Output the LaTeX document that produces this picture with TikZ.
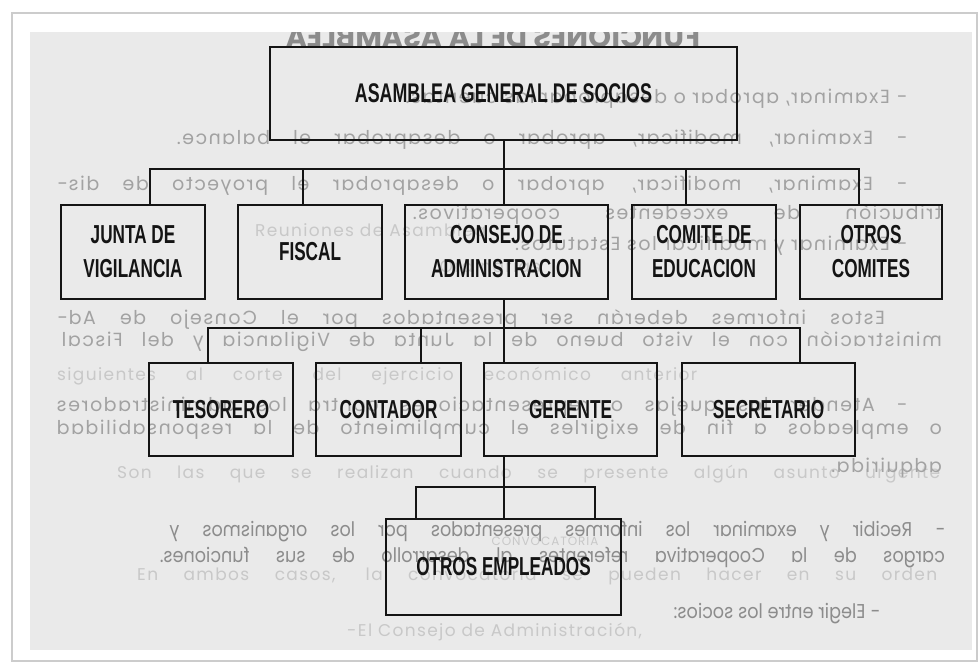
\documentclass[tikz,border=0pt]{standalone}
\usepackage{graphicx}
\usepackage{fontspec}
\setmainfont{Liberation Sans}
\newfontfamily\bodyfont{Poppins}[LetterSpace=8]
\newfontfamily\plainbody{Poppins}

\definecolor{paper}{HTML}{EAEAEA}
\definecolor{ink}{HTML}{141414}
\definecolor{backside}{HTML}{A2A2A2}
\definecolor{backsidedark}{HTML}{8C8C8C}
\definecolor{underlay}{HTML}{C8C8C8}
\definecolor{framegray}{HTML}{CCCCCC}

% condensed heavy label type
\newcommand\cond[1]{\scalebox{0.66}[1]{#1}}
% text showing through from the back of the sheet (mirrored)
\newcommand\mirfull[2]{\reflectbox{\makebox[#1][s]{#2}}}
\newcommand\mirnat[1]{\reflectbox{#1}}
\newcommand\condmir[2]{\reflectbox{\scalebox{0.88}[1]{\makebox[#1][s]{#2}}}}

\tikzset{
  orgbox/.style={draw=ink, line width=2.8pt, inner sep=0pt, align=center,
    font=\fontsize{26}{34}\selectfont\bfseries, text=ink},
  link/.style={draw=ink, line width=2.5pt, line join=miter},
  backtext/.style={anchor=base east, inner sep=0pt, text=backside,
    font=\bodyfont\fontsize{19}{23}\selectfont},
  backtextdark/.style={backtext, text=backsidedark,
    font=\plainbody\fontsize{20}{24}\selectfont},
  undertext/.style={anchor=base west, inner sep=0pt, text=underlay,
    font=\bodyfont\fontsize{17}{21}\selectfont},
}

\begin{document}
\begin{tikzpicture}[x=1pt, y=-1pt]
\useasboundingbox (0,0) rectangle (979,664);
\fill[white] (0,0) rectangle (979,664);

% photo frame and sheet
\draw[framegray, line width=1.2pt] (12,13) rectangle (977,661);
\fill[paper] (30,32) rectangle (972,650);

\begin{scope}
\clip (30,32) rectangle (972,650);

% faint text of the sheet below
\node[undertext] (u1) at (255,236) {Reuniones de Asamblea};
\node[undertext, anchor=base] (u2) at (490,272) {Ordinarias};
\node[undertext] (u3) at (57,380) {\makebox[640pt][s]{siguientes al corte del ejercicio económico anterior}};
\node[undertext] (u4) at (117,478) {\makebox[823pt][s]{Son las que se realizan cuando se presente algún asunto urgente}};
\node[undertext, anchor=base, font=\bodyfont\fontsize{12}{14}\selectfont] (u5) at (545,545) {CONVOCATORIA};
\node[undertext] (u6) at (137,580) {\makebox[800pt][s]{En ambos casos, la convocatoria se pueden hacer en su orden}};
\node[undertext] (u7) at (347,636) {-El Consejo de Administración,};

% mirrored text from the back of the sheet
\node[backtext, anchor=base, text=backsidedark, font=\plainbody\fontsize{29}{33}\selectfont\bfseries] (t0) at (493,47)
  {\mirnat{FUNCIONES DE LA ASAMBLEA}};
\node[backtext] (t1) at (907,103) {\mirnat{- Examinar, aprobar o desaprobar las cuentas.}};
\node[backtext] (t2) at (907,144) {\mirfull{730pt}{- Examinar, modificar, aprobar o desaprobar el balance.}};
\node[backtext] (t3) at (907,190) {\mirfull{850pt}{- Examinar, modificar, aprobar o desaprobar el proyecto de dis-}};
\node[backtext] (t4) at (942,219) {\mirfull{529pt}{tribución de excedentes cooperativos.}};
\node[backtext] (t5) at (907,250) {\mirnat{- Examinar y modificar los Estatutos.}};
\node[backtext] (t6) at (885,324) {\mirfull{828pt}{Estos informes deberán ser presentados por el Consejo de Ad-}};
\node[backtext] (t7) at (942,346) {\mirfull{880pt}{ministración con el visto bueno de la Junta de Vigilancia y del Fiscal}};
\node[backtext] (t8) at (907,411) {\mirfull{850pt}{- Atender las quejas o representaciones contra los administradores}};
\node[backtext] (t9) at (942,434) {\mirfull{885pt}{o empleados a fin de exigirles el cumplimiento de la responsabilidad}};
\node[backtext] (t10) at (942,472) {\mirnat{adquirida.}};
\node[backtextdark] (t11) at (945,536) {\condmir{881pt}{- Recibir y examinar los informes presentados por los organismos y}};
\node[backtextdark] (t12) at (945,562) {\condmir{892pt}{cargos de la Cooperativa referentes al desarrollo de sus funciones.}};
\node[backtextdark] (t13) at (880,618) {\reflectbox{\scalebox{0.88}[1]{- Elegir entre los socios:}}};
\end{scope}

% organisation chart
\node[orgbox, minimum width=467pt, minimum height=93pt] (asamblea) at (503.5,93.5)
  {\fontsize{27}{34}\selectfont\cond{ASAMBLEA GENERAL DE SOCIOS}};

\node[orgbox, minimum width=144pt, minimum height=94pt] (junta) at (133,252)
  {\cond{JUNTA DE}\\\cond{VIGILANCIA}};
\node[orgbox, minimum width=144pt, minimum height=94pt] (fiscal) at (310,252)
  {\cond{FISCAL}};
\node[orgbox, minimum width=203pt, minimum height=94pt] (consejo) at (506.5,252)
  {\cond{CONSEJO DE}\\\cond{ADMINISTRACION}};
\node[orgbox, minimum width=144pt, minimum height=94pt] (comite) at (704,252)
  {\cond{COMITE DE}\\\cond{EDUCACION}};
\node[orgbox, minimum width=142pt, minimum height=94pt] (otroscom) at (871,252)
  {\cond{OTROS}\\\cond{COMITES}};

\node[orgbox, minimum width=144pt, minimum height=93pt] (tesorero) at (221,409.5)
  {\cond{TESORERO}};
\node[orgbox, minimum width=145pt, minimum height=93pt] (contador) at (388.5,409.5)
  {\cond{CONTADOR}};
\node[orgbox, minimum width=173pt, minimum height=93pt] (gerente) at (570.5,409.5)
  {\cond{GERENTE}};
\node[orgbox, minimum width=173pt, minimum height=93pt] (secretario) at (768.5,409.5)
  {\cond{SECRETARIO}};

\node[orgbox, minimum width=235pt, minimum height=96pt] (empleados) at (503.5,567)
  {\cond{OTROS EMPLEADOS}};

% branch points
\coordinate (stem) at (504,0);
\coordinate (busAL) at (150,169);
\coordinate (busAR) at (859,169);
\coordinate (busAf) at (303,169);
\coordinate (busAc) at (686,169);
\coordinate (busBL) at (208,328);
\coordinate (busBR) at (800,328);
\coordinate (busBc) at (421,328);
\coordinate (busCL) at (416,487);
\coordinate (busCR) at (595,487);

% first level
\draw[link] (stem |- asamblea.south) -- (stem |- consejo.north);
\draw[link] (busAL |- junta.north) -- (busAL) -- (busAR) -- (busAR |- otroscom.north);
\draw[link] (busAf) -- (busAf |- fiscal.north);
\draw[link] (busAc) -- (busAc |- comite.north);

% second level
\draw[link] (stem |- consejo.south) -- (stem |- gerente.north);
\draw[link] (busBL |- tesorero.north) -- (busBL) -- (busBR) -- (busBR |- secretario.north);
\draw[link] (busBc) -- (busBc |- contador.north);

% third level
\draw[link] (stem |- gerente.south) -- (stem |- empleados.north);
\draw[link] (busCL |- empleados.north) -- (busCL) -- (busCR) -- (busCR |- empleados.north);
\end{tikzpicture}
\end{document}
